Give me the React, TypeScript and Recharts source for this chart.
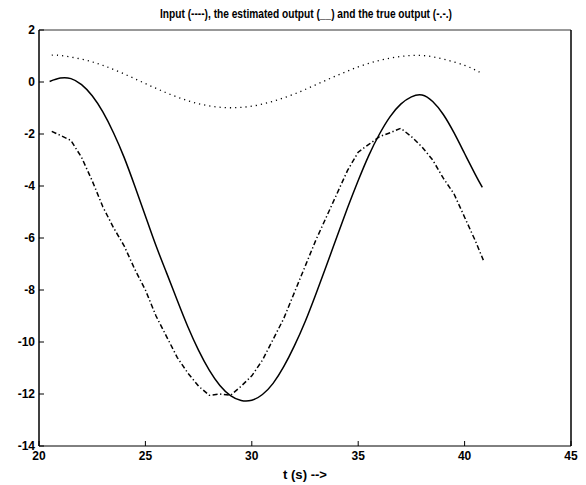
import { Line, LineChart, XAxis, YAxis } from "recharts";

const FONT = "'Liberation Sans', Arial, Helvetica, sans-serif";

const X_TICKS = [20, 25, 30, 35, 40, 45];
const Y_TICKS = [-14, -12, -10, -8, -6, -4, -2, 0, 2];

// input (dotted)
const inputT = [20.6, 21, 22, 23, 24, 25, 26, 27, 28, 29, 30, 31, 32, 33, 34, 35, 36, 37, 38, 39, 40, 40.7];
const inputV = [1.03, 1.02, 0.88, 0.64, 0.31, -0.06, -0.42, -0.72, -0.92, -0.99, -0.93, -0.74, -0.46, -0.11, 0.25, 0.58, 0.83, 0.98, 1.02, 0.88, 0.64, 0.38];

// estimated output (solid)
const estT = [20.5, 21, 21.5, 22, 22.5, 23, 23.5, 24, 24.5, 25, 25.5, 26, 26.5, 27, 27.5, 28, 28.5, 29, 29.5, 30, 30.5, 31, 31.5, 32, 32.5, 33, 33.5, 34, 34.5, 35, 35.5, 36, 36.5, 37, 37.5, 38, 38.5, 39, 39.5, 40, 40.5, 40.83];
const estV = [0.02, 0.15, 0.13, -0.1, -0.53, -1.15, -1.95, -2.9, -4.0, -5.15, -6.3, -7.35, -8.4, -9.42, -10.32, -11.08, -11.67, -12.06, -12.25, -12.24, -12.02, -11.59, -10.95, -10.15, -9.23, -8.18, -7.08, -5.95, -4.84, -3.79, -2.82, -2.0, -1.33, -0.85, -0.57, -0.5, -0.75, -1.25, -1.95, -2.75, -3.55, -4.05];

// true output (dash-dot)
const trueT = [20.6, 21, 21.5, 22, 22.5, 23, 23.5, 24, 24.5, 25, 25.5, 26, 26.5, 27, 27.5, 28, 28.5, 29, 29.5, 30, 30.5, 31, 31.5, 32, 32.5, 33, 33.5, 34, 34.5, 35, 35.5, 36, 36.5, 37, 37.5, 38, 38.5, 39, 39.5, 40, 40.5, 40.88];
const trueV = [-1.9, -2.05, -2.25, -2.9, -3.8, -4.8, -5.6, -6.3, -7.2, -8.0, -9.0, -9.8, -10.6, -11.2, -11.7, -12.05, -12.0, -12.05, -11.7, -11.3, -10.7, -9.9, -9.1, -8.1, -7.1, -6.1, -5.2, -4.3, -3.4, -2.7, -2.4, -2.1, -1.95, -1.78, -2.1, -2.5, -3.0, -3.7, -4.3, -5.2, -6.1, -6.85];

const zip = (ts: number[], vs: number[]) => ts.map((t, i) => ({ t, v: vs[i] }));
const inputData = zip(inputT, inputV);
const estData = zip(estT, estV);
const trueData = zip(trueT, trueV);

function BottomTick(props: any) {
  const { x, y, payload } = props;
  return (
    <g>
      <line x1={x} y1={y} x2={x} y2={y - 5} stroke="#000" />
      <text x={x} y={y + 14} textAnchor="middle" fontSize={12} fontWeight="bold" fontFamily={FONT} fill="#000">
        {payload.value}
      </text>
    </g>
  );
}

function TopTick(props: any) {
  const { x, y } = props;
  return <line x1={x} y1={y} x2={x} y2={y + 5} stroke="#000" />;
}

function LeftTick(props: any) {
  const { x, y, payload } = props;
  return (
    <g>
      <line x1={x} y1={y} x2={x + 5} y2={y} stroke="#000" />
      <text x={x - 4} y={y + 4} textAnchor="end" fontSize={12} fontWeight="bold" fontFamily={FONT} fill="#000">
        {payload.value}
      </text>
    </g>
  );
}

function RightTick(props: any) {
  const { x, y } = props;
  return <line x1={x} y1={y} x2={x - 5} y2={y} stroke="#000" />;
}

export default function App() {
  return (
    <div style={{ position: "absolute", left: 0, top: 0, width: 586, height: 485, background: "#fff" }}>
      <LineChart width={586} height={485} margin={{ top: 0, right: 0, bottom: 0, left: 0 }}>
        <XAxis
          xAxisId="b"
          type="number"
          dataKey="t"
          domain={[20, 45]}
          ticks={X_TICKS}
          orientation="bottom"
          height={39}
          tickSize={0}
          tickMargin={0}
          tickLine={false}
          axisLine={{ stroke: "#000" }}
          tick={BottomTick}
          interval={0}
          allowDataOverflow
        />
        <XAxis
          xAxisId="top"
          type="number"
          domain={[20, 45]}
          ticks={X_TICKS}
          orientation="top"
          height={30}
          tickSize={0}
          tickMargin={0}
          tickLine={false}
          axisLine={{ stroke: "#333" }}
          tick={TopTick}
          interval={0}
        />
        <YAxis
          yAxisId="l"
          type="number"
          domain={[-14, 2]}
          ticks={Y_TICKS}
          orientation="left"
          width={39}
          tickSize={0}
          tickMargin={0}
          tickLine={false}
          axisLine={{ stroke: "#000", strokeWidth: 1.5 }}
          tick={LeftTick}
          interval={0}
          allowDataOverflow
        />
        <YAxis
          yAxisId="r"
          type="number"
          domain={[-14, 2]}
          ticks={Y_TICKS}
          orientation="right"
          width={15}
          tickSize={0}
          tickMargin={0}
          tickLine={false}
          axisLine={{ stroke: "#000", strokeWidth: 1.5 }}
          tick={RightTick}
          interval={0}
        />
        <Line
          xAxisId="b"
          yAxisId="l"
          data={inputData}
          dataKey="v"
          type="natural"
          stroke="#000"
          strokeWidth={1.3}
          strokeDasharray="1.2 4"
          dot={false}
          isAnimationActive={false}
        />
        <Line
          xAxisId="b"
          yAxisId="l"
          data={estData}
          dataKey="v"
          type="natural"
          stroke="#000"
          strokeWidth={1.5}
          dot={false}
          isAnimationActive={false}
        />
        <Line
          xAxisId="b"
          yAxisId="l"
          data={trueData}
          dataKey="v"
          type="linear"
          stroke="#000"
          strokeWidth={1.5}
          strokeDasharray="5 2.5 1.3 2.5"
          dot={false}
          isAnimationActive={false}
        />
      </LineChart>
      <svg width={586} height={485} style={{ position: "absolute", left: 0, top: 0, pointerEvents: "none" }}>
        <text
          x={160}
          y={18}
          textLength={292}
          lengthAdjust="spacingAndGlyphs"
          fontSize={12.5}
          fontWeight="bold"
          fontFamily={FONT}
          fill="#000"
        >
          Input (----), the estimated output (__) and the true output (-.-.)
        </text>
        <text
          x={283}
          y={479}
          textLength={44}
          lengthAdjust="spacingAndGlyphs"
          fontSize={12}
          fontWeight="bold"
          fontFamily={FONT}
          fill="#000"
        >
          t (s) --&gt;
        </text>
      </svg>
    </div>
  );
}
